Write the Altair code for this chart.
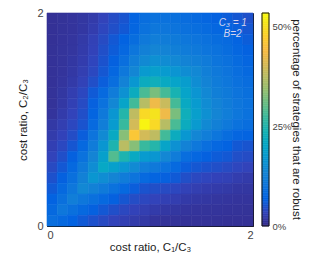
import altair as alt
import pandas as pd

# grid cell centres (cost ratios C1/C3 across, C2/C3 from top row to bottom row)
cost_ratio_c1 = [0.05, 0.15, 0.25, 0.35, 0.45, 0.55, 0.65, 0.75, 0.85, 0.95,
                 1.05, 1.15, 1.25, 1.35, 1.45, 1.55, 1.65, 1.75, 1.85, 1.95]
cost_ratio_c2 = [1.95, 1.85, 1.75, 1.65, 1.55, 1.45, 1.35, 1.25, 1.15, 1.05,
                 0.95, 0.85, 0.75, 0.65, 0.55, 0.45, 0.35, 0.25, 0.15, 0.05]

# percentage of strategies that are robust, one row per C2/C3 value (top to bottom)
robust_pct = [
    [1.0, 1.15, 1.4, 1.7, 2.3, 3.4, 4.3, 5.2, 7, 8.8, 9.6, 9.5, 9.2, 8.7, 7.8, 7.3, 6.7, 6.1, 5.5, 4.8],
    [1.0, 1.2, 1.4, 1.8, 2.6, 3.7, 4.6, 5.6, 7.4, 9.6, 10.6, 10.4, 10, 9.4, 8.8, 8.2, 7.6, 7, 6.3, 5.5],
    [1.0, 1.25, 1.5, 2.1, 3.1, 4.2, 5.6, 6.8, 8.6, 11, 12, 11.7, 11.2, 10.6, 10, 9.3, 8.6, 8, 7, 6.1],
    [1.05, 1.3, 1.6, 2.3, 3.3, 4.6, 6, 7.7, 10.3, 12.5, 13.5, 13, 12.3, 11.6, 10.9, 10.2, 9.5, 8.6, 7.6, 6.7],
    [1.1, 1.3, 1.8, 2.5, 3.6, 5, 6.6, 9, 12, 14.3, 15.5, 14.8, 14, 13.2, 12.3, 11.5, 10.2, 9.3, 8.2, 7.3],
    [1.1, 1.4, 1.9, 2.8, 3.9, 5.5, 7.6, 10.7, 13.7, 17.4, 18.5, 17.5, 16.3, 15, 14, 12.3, 10.9, 10, 8.8, 7.8],
    [1.1, 1.5, 2.2, 3.2, 4.6, 6.2, 8.9, 12.8, 16.8, 21.7, 22.5, 21, 19.5, 18, 15, 13.2, 11.6, 10.6, 9.4, 8.7],
    [1.2, 1.7, 2.7, 3.8, 5.8, 8.1, 11.6, 15.7, 21.7, 28.3, 32, 28, 24, 19.5, 16.3, 14, 12.3, 11.2, 10, 9.2],
    [1.2, 1.9, 3.0, 4.2, 6.5, 9.5, 13.9, 19.6, 27.8, 37.2, 43, 39, 28, 21, 17.5, 14.8, 13, 11.7, 10.4, 9.5],
    [1.4, 2.35, 3.4, 4.6, 7.2, 11, 16.5, 25.2, 38, 49, 50.5, 43, 32, 22.5, 18.5, 15.5, 13.5, 12, 10.6, 9.6],
    [2.0, 2.8, 3.8, 5.1, 8, 12, 17.5, 27, 40, 52.5, 49, 37.2, 28.3, 21.7, 17.4, 14.3, 12.5, 11, 9.6, 8.8],
    [2.4, 3.3, 4.4, 6.2, 10, 14.5, 21, 33, 46, 40, 38, 27.8, 21.7, 16.8, 13.7, 12, 10.3, 8.6, 7.4, 7],
    [2.9, 3.9, 5.4, 7.8, 11.6, 16.6, 24.5, 37.5, 33, 27, 25.2, 19.6, 15.7, 12.8, 10.7, 9, 7.7, 6.8, 5.6, 5.2],
    [3.4, 4.7, 6.6, 9.5, 13.4, 18.7, 29, 24.5, 21, 17.5, 16.5, 13.9, 11.6, 8.9, 7.6, 6.6, 6, 5.6, 4.6, 4.3],
    [4.1, 5.6, 7.9, 11.2, 15, 20.5, 18.7, 16.6, 14.5, 12, 11, 9.5, 8.1, 6.2, 5.5, 5, 4.6, 4.2, 3.7, 3.4],
    [4.9, 6.6, 9.2, 12.6, 16.5, 15, 13.4, 11.6, 10, 8, 7.2, 6.5, 5.8, 4.6, 3.9, 3.6, 3.3, 3.1, 2.6, 2.3],
    [5.8, 7.8, 10.6, 14, 12.6, 11.2, 9.5, 7.8, 6.2, 5.1, 4.6, 4.2, 3.8, 3.2, 2.8, 2.5, 2.3, 2.1, 1.8, 1.7],
    [6.8, 9.2, 12, 10.6, 9.2, 7.9, 6.6, 5.4, 4.4, 3.8, 3.4, 3.0, 2.7, 2.2, 1.9, 1.8, 1.6, 1.5, 1.4, 1.4],
    [7.8, 10.5, 9.2, 7.8, 6.6, 5.6, 4.7, 3.9, 3.3, 2.8, 2.35, 1.9, 1.7, 1.5, 1.4, 1.3, 1.3, 1.25, 1.2, 1.15],
    [9, 7.8, 6.8, 5.8, 4.9, 4.1, 3.4, 2.9, 2.4, 2.0, 1.4, 1.2, 1.2, 1.1, 1.1, 1.1, 1.05, 1.0, 1.0, 1.0],
]

legend_ticks = [0, 25, 50]
axis_ticks = [0, 1, 2]
colour_max = 53.25
colourbar_title = ["percentage of strategies that are robust"]

annot_text = ["C₃ = 1", "B=2"]
annot_x = [1.94, 1.89]
annot_y = [1.91, 1.80]

# parula colormap samples (index in 64-entry table -> colour)
parula_idx = [0, 4, 8, 12, 16, 20, 24, 28, 32, 36, 40, 44, 48, 52, 56, 60, 63]
parula_hex = ["#352a87", "#3243ba", "#0363e1", "#0d75dc", "#1485d4", "#0998d1",
              "#06a7c6", "#15b1b4", "#38b99e", "#65be86", "#92bf73", "#b7bd64",
              "#d9ba56", "#f8bb44", "#fcce2e", "#f5e41d", "#f9fb0e"]
colour_domain = [k / 63 * colour_max for k in parula_idx]

half = (cost_ratio_c1[1] - cost_ratio_c1[0]) / 2
rows = []
for j, yc in enumerate(cost_ratio_c2):
    for i, xc in enumerate(cost_ratio_c1):
        v = robust_pct[j][i]
        rows.append({
            "x0": round(xc - half, 4), "x1": round(xc + half, 4),
            "y0": round(yc - half, 4), "y1": round(yc + half, 4),
            "pct": v, "pct_edge": v,
        })
grid = pd.DataFrame(rows)
annot = pd.DataFrame({"x": annot_x, "y": annot_y, "label": annot_text})
cbar_title = pd.DataFrame({"label": colourbar_title})

# colour bar: thin slices of the colour scale from 0 to the top of its range
n_slices = 120
step = colour_max / n_slices
cbar = pd.DataFrame({
    "lo": [k * step for k in range(n_slices)],
    "hi": [(k + 1) * step for k in range(n_slices)],
    "pct": [(k + 0.5) * step for k in range(n_slices)],
})
cbar["pct_edge"] = cbar["pct"]
frame_df = pd.DataFrame({"k": [0]})

FONT = "Liberation Sans"
PW, PH = 206, 213
CB0, CB1 = PW + 9, PW + 16
xscale = alt.Scale(domain=[0, 2], nice=False, zero=False)
yscale = alt.Scale(domain=[0, 2], nice=False, zero=False)
x_axis = alt.Axis(values=axis_ticks, title="cost ratio, C₁/C₃", grid=False,
                  ticks=False, labelPadding=3, titlePadding=1, format="d")


def cscale():
    return alt.Scale(domain=colour_domain, range=parula_hex, interpolate="rgb")


heat = alt.Chart(grid).mark_rect(strokeWidth=0.6).encode(
    x=alt.X("x0:Q", scale=xscale, axis=x_axis),
    x2="x1:Q",
    y=alt.Y("y0:Q", scale=yscale,
            axis=alt.Axis(values=axis_ticks, title="cost ratio, C₂/C₃", grid=False,
                          ticks=False, labelPadding=4, titlePadding=8,
                          format="d")),
    y2="y1:Q",
    color=alt.Color("pct:Q", scale=cscale(), legend=None),
    stroke=alt.Stroke("pct_edge:Q", scale=cscale(), legend=None),
)

labels = alt.Chart(annot).mark_text(
    align="right", baseline="middle", fontStyle="italic", fontSize=10,
    font=FONT, color="#d4d4ee"
).encode(
    x=alt.X("x:Q", scale=xscale, axis=x_axis),
    y=alt.Y("y:Q", scale=yscale, axis=None),
    text="label:N",
)

bar = alt.Chart(cbar).mark_rect(strokeWidth=0.6).encode(
    x=alt.value(CB0),
    x2=alt.value(CB1),
    y=alt.Y("lo:Q", scale=alt.Scale(domain=[0, colour_max], nice=False, zero=False),
            axis=alt.Axis(orient="right", values=legend_ticks,
                          labelExpr="datum.value + '%'", title=None,
                          domain=False, ticks=False, tickSize=0, grid=False,
                          offset=16, labelPadding=3, labelFontSize=9.5,
                          labelColor="#444444")),
    y2="hi:Q",
    color=alt.Color("pct:Q", scale=cscale(), legend=None),
    stroke=alt.Stroke("pct_edge:Q", scale=cscale(), legend=None),
)

bar_frame = alt.Chart(frame_df).mark_rect(
    fillOpacity=0, stroke="#111111", strokeWidth=1
).encode(
    x=alt.value(CB0), x2=alt.value(CB1),
    y=alt.value(0), y2=alt.value(PH),
)

cbar_label = alt.Chart(cbar_title).mark_text(
    angle=90, align="center", baseline="middle", fontSize=11.5,
    font=FONT, color="#222222"
).encode(
    x=alt.value(PW + 43),
    y=alt.value(PH / 2),
    text="label:N",
)

chart = alt.layer(heat, labels, bar, bar_frame, cbar_label).resolve_scale(
    y="independent"
).properties(
    width=PW, height=PH,
    autosize=alt.AutoSizeParams(type="none"),
    padding={"left": 39, "top": 5, "right": 50, "bottom": 28},
).configure_view(
    stroke="#111111", strokeWidth=1
).configure_axis(
    domainColor="#111111", labelFont=FONT, titleFont=FONT,
    labelFontSize=11, labelColor="#444444",
    titleFontSize=11.5, titleFontWeight="normal", titleColor="#222222",
)

chart.save("out.html", embed_options={"renderer": "svg", "actions": False})
